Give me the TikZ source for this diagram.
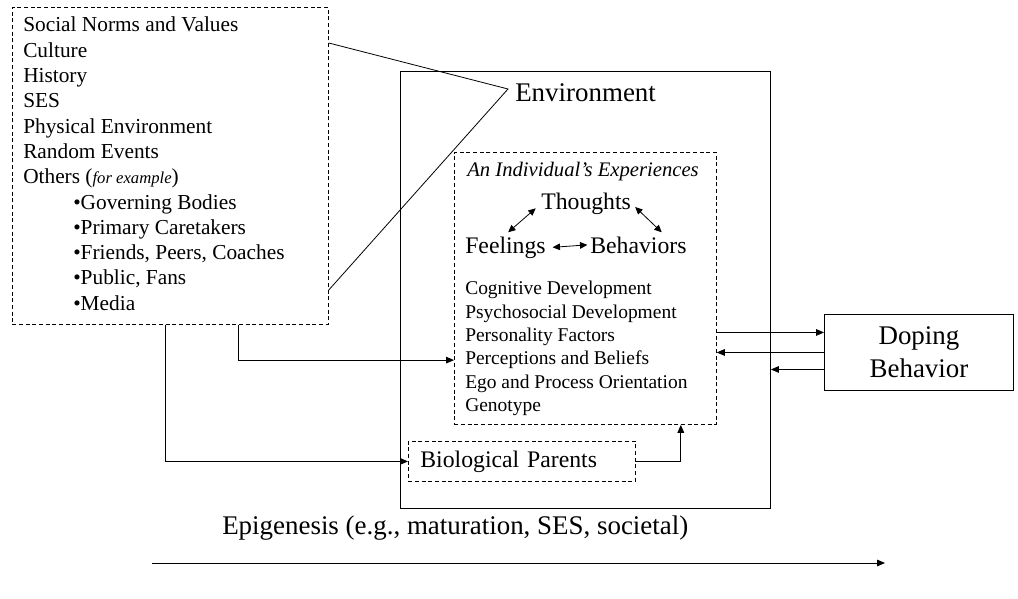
\documentclass[tikz,border=0pt]{standalone}
\usepackage{fontspec}
\setmainfont{Liberation Serif}
\usetikzlibrary{arrows.meta}
\newcommand\socfont{\fontsize{16}{19}\selectfont}
\newcommand\devfont{\fontsize{14.6}{17.5}\selectfont}
\newcommand\bigfont{\fontsize{17.8}{21}\selectfont}
\newcommand\hugefont{\fontsize{20.2}{24.75}\selectfont}
\tikzset{
  dashbox/.style={draw, dash pattern=on 3pt off 2pt, line width=0.6pt, inner sep=0pt},
  solidbox/.style={draw, line width=0.7pt, inner sep=0pt},
  txt/.style={anchor=base west, inner sep=0pt},
  arr/.style={-{Triangle[length=6pt,width=5pt]}, line width=0.6pt},
  dbl/.style={{Triangle[length=5.5pt,width=5pt]}-{Triangle[length=5.5pt,width=5pt]}, line width=0.6pt},
}
\begin{document}
\begin{tikzpicture}[x=0.75pt,y=0.75pt,yscale=-1]
\useasboundingbox (0,0) rectangle (1018,599);

% boxes
\node[dashbox, anchor=north west, minimum width=237pt, minimum height=237.75pt] (soc) at (12,7) {};
\node[solidbox, anchor=north west, minimum width=277.5pt, minimum height=327.75pt] (env) at (400,71) {};
\node[dashbox, anchor=north west, minimum width=196.5pt, minimum height=204pt] (exp) at (454,152) {};
\node[dashbox, anchor=north west, minimum width=170.25pt, minimum height=30pt, inner xsep=9pt, text width=152.25pt, align=left, font=\bigfont] (bio) at (408,441) {Biological Parents};
\node[solidbox, anchor=north west, minimum width=141.75pt, minimum height=57pt, align=center, font=\hugefont] (dop) at (824,314) {Doping\\Behavior};

% outer influences
\foreach \t [count=\i from 0] in {Social Norms and Values, Culture, History, SES, Physical Environment, Random Events, {Others ({\fontsize{12.5}{14}\selectfont\itshape for example})}}
  \node[txt, font=\socfont] (soc-\i) at (23,{32+25.3*\i}) {\t};
\foreach \t [count=\i from 7] in {Governing Bodies, Primary Caretakers, {Friends, Peers, Coaches}, {Public, Fans}, Media}
  \node[txt, font=\socfont] (soc-\i) at (73,{32+25.3*\i}) {•\t};

% environment callout (yscale=-1 flips yshift)
\node[txt, font=\hugefont] (envlab) at (515,102) {Environment};
\coordinate (apex) at (508,89);
\draw[line width=0.6pt] ([yshift=27pt]soc.north east) -- (apex) -- ([yshift=212.25pt]soc.north east);

% individual
\node[txt, font=\fontsize{15.5}{18}\selectfont\itshape] (head) at (467,177) {An Individual’s Experiences};
\node[txt, font=\bigfont] (thou) at (541,210) {Thoughts};
\node[txt, font=\bigfont] (feel) at (465,253) {Feelings};
\node[txt, font=\bigfont] (beh) at (590,253) {Behaviors};
\draw[dbl] ([xshift=2pt,yshift=-3pt]feel.north) -- ([xshift=-4pt,yshift=3pt]thou.west);
\draw[dbl] ([xshift=3pt,yshift=2pt]thou.east) -- ([xshift=17.5pt,yshift=-3pt]beh.north);
\draw[dbl] ([xshift=5pt]feel.east) -- ([xshift=-2pt]beh.west);
\foreach \t [count=\i] in {Cognitive Development, Psychosocial Development, Personality Factors, Perceptions and Beliefs, Ego and Process Orientation, Genotype}
  \node[txt, font=\devfont] (dev-\i) at (465,{295+23.3*(\i-1)}) {\t};

% connectors
\draw[arr] ([xshift=169.5pt]soc.south west) |- (exp.west |- dev-4);
\draw[arr] ([xshift=114.75pt]soc.south west) |- (bio.west);
\draw[arr] (bio.east) -| ([xshift=-27pt]exp.south east);
\coordinate (d1) at ([yshift=-15pt]dop.west);
\coordinate (d3) at ([yshift=12.75pt]dop.west);
\draw[arr] (exp.east |- d1) -- (d1);
\draw[arr] (dop.west) -- (exp.east |- dop.west);
\draw[arr] (d3) -- (env.east |- d3);

% time axis
\node[txt, font=\hugefont] (epi) at (222,534) {Epigenesis (e.g., maturation, SES, societal)};
\coordinate (t0) at (152,563);
\coordinate (t1) at (885,563);
\draw[arr] (t0) -- (t1);

\end{tikzpicture}
\end{document}
